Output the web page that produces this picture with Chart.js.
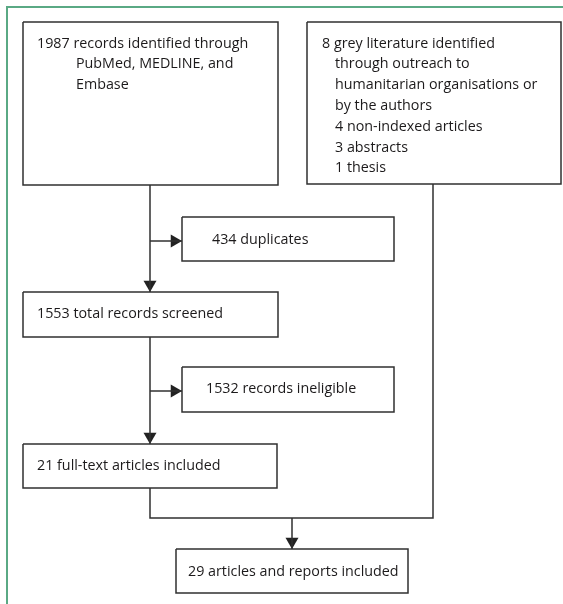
<!DOCTYPE html>
<html>
<head>
<meta charset="utf-8">
<script src="https://cdn.jsdelivr.net/npm/chart.js@4.4.1/dist/chart.umd.min.js"></script>
<style>
  html, body { margin: 0; padding: 0; background: #fff; }
  #wrap { position: relative; width: 563px; height: 604px; }
</style>
</head>
<body>
<div id="wrap"><canvas id="flujo"></canvas></div>
<script>
// Conteos de cada paso del diagrama
const conteos = [1987, 8, 434, 1553, 1532, 21, 29];

// Texto de cada caja (el primer renglón lleva el conteo)
const textos = [
    [conteos[0] + ' records identified through', 'PubMed, MEDLINE, and', 'Embase'],
    [conteos[1] + ' grey literature identified', 'through outreach to', 'humanitarian organisations or', 'by the authors',
     '4 non-indexed articles', '3 abstracts', '1 thesis'],
    [conteos[2] + ' duplicates'],
    [conteos[3] + ' total records screened'],
    [conteos[4] + ' records ineligible'],
    [conteos[5] + ' full-text articles included'],
    [conteos[6] + ' articles and reports included']
];

// Disposición (en unidades de los ejes, 1 unidad = 1 px): [x0, y0, x1, y1]
const cajas = [
    [23, 22, 278, 185],
    [307, 22, 561, 184],
    [182, 217, 394, 261],
    [23, 292, 278, 337],
    [182, 367, 394, 412],
    [23, 444, 277, 488],
    [176, 549, 408, 593]
];
// x del primer renglón y de los renglones con sangría, y del primer renglón
const textoX = [[37, 76], [322, 335], [212], [37], [206], [37], [188]];
const textoY = [43.5, 43.5, 239.5, 314, 389, 466, 571.5];
const interlineado = [20.5, 20.8, 0, 0, 0, 0, 0];

// Conectores (polilíneas)
const conectores = [
    [[150, 185], [150, 292]],
    [[150, 241], [182, 241]],
    [[150, 337], [150, 444]],
    [[150, 391], [182, 391]],
    [[150, 488], [150, 518], [433, 518], [433, 184]],
    [[292, 518], [292, 549]]
];
// Puntas de flecha: [x, y, dirección]
const flechas = [
    [150, 292, 'abajo'],
    [182, 241, 'derecha'],
    [150, 444, 'abajo'],
    [182, 391, 'derecha'],
    [292, 549, 'abajo']
];
const radioFlecha = 7.5;

const colorLinea = '#303030';
const colorMarco = '#5aa984';

const datasets = [];

// Marco verde (izquierda y arriba)
datasets.push({
    type: 'line',
    data: [{x: 7, y: 604}, {x: 7, y: 7}, {x: 563, y: 7}],
    borderColor: colorMarco,
    borderWidth: 2,
    pointRadius: 0,
    fill: false
});

// Cajas como polígonos cerrados
cajas.forEach(c => {
    datasets.push({
        type: 'line',
        data: [{x: c[0], y: c[1]}, {x: c[2], y: c[1]}, {x: c[2], y: c[3]}, {x: c[0], y: c[3]}, {x: c[0], y: c[1]}],
        borderColor: colorLinea,
        borderWidth: 1.5,
        pointRadius: 0,
        fill: false
    });
});

// Conectores
conectores.forEach(l => {
    datasets.push({
        type: 'line',
        data: l.map(p => ({x: p[0], y: p[1]})),
        borderColor: colorLinea,
        borderWidth: 1.5,
        pointRadius: 0,
        fill: false
    });
});

// Puntas de flecha (triángulos centrados detrás de la punta)
datasets.push({
    type: 'scatter',
    data: flechas.map(f => f[2] === 'abajo'
        ? {x: f[0], y: f[1] - radioFlecha}
        : {x: f[0] - radioFlecha, y: f[1]}),
    pointStyle: 'triangle',
    pointRadius: radioFlecha,
    pointRotation: flechas.map(f => f[2] === 'abajo' ? 180 : 90),
    backgroundColor: '#222222',
    borderColor: '#222222',
    borderWidth: 0
});

// Plugin para escribir los textos usando las escalas
const textoCajas = {
    id: 'textoCajas',
    afterDatasetsDraw(chart) {
        const {ctx, scales: {x, y}} = chart;
        ctx.save();
        ctx.fillStyle = '#1c1a1b';
        ctx.font = '14.3px "Open Sans", sans-serif';
        ctx.textBaseline = 'middle';
        ctx.textAlign = 'left';
        textos.forEach((lineas, i) => {
            lineas.forEach((t, j) => {
                const xs = textoX[i];
                const tx = j === 0 ? xs[0] : xs[1];
                const ty = textoY[i] + j * interlineado[i];
                ctx.fillText(t, x.getPixelForValue(tx), y.getPixelForValue(ty));
            });
        });
        ctx.restore();
    }
};

new Chart(document.getElementById('flujo').getContext('2d'), {
    type: 'scatter',
    data: { datasets: datasets },
    options: {
        responsive: true,
        maintainAspectRatio: false,
        animation: false,
        layout: { padding: 0, autoPadding: false },
        plugins: {
            legend: { display: false },
            tooltip: { enabled: false }
        },
        scales: {
            x: { type: 'linear', min: 0, max: 563, display: false },
            y: { type: 'linear', min: 0, max: 604, reverse: true, display: false }
        }
    },
    plugins: [textoCajas]
});
</script>
</body>
</html>
